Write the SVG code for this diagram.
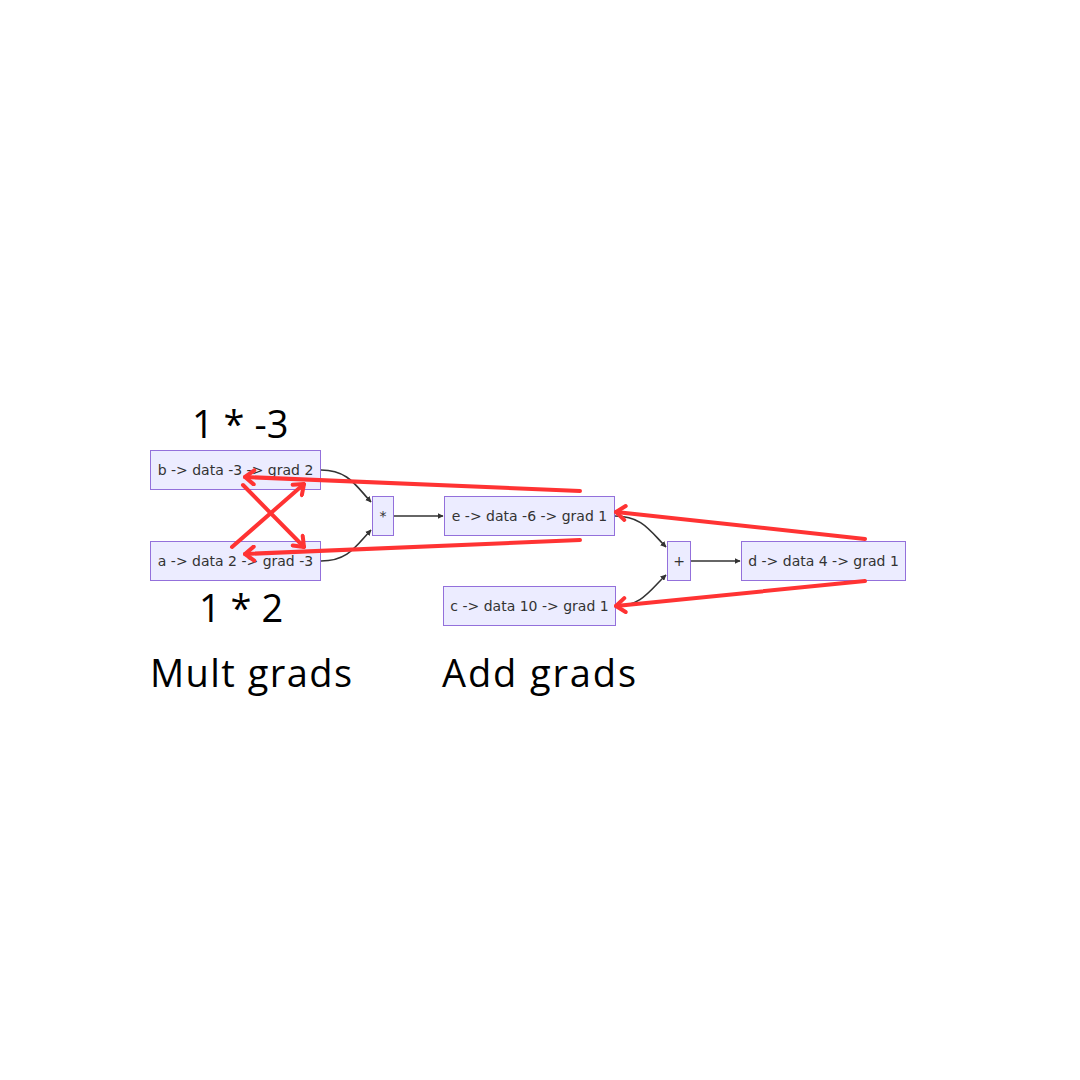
<svg xmlns="http://www.w3.org/2000/svg" width="1080" height="1080" viewBox="0 0 1080 1080">
<defs>
<marker id="ah" viewBox="0 0 10 10" refX="9" refY="5" markerWidth="6" markerHeight="6" orient="auto" markerUnits="userSpaceOnUse">
<path d="M0,0 L10,5 L0,10 z" fill="#333"/>
</marker>
<marker id="rh" viewBox="-12 -9 14 18" refX="0" refY="0" markerWidth="14" markerHeight="18" orient="auto" markerUnits="userSpaceOnUse">
<path d="M-9,-7 L0,0 L-9,7" fill="none" stroke="#ff3333" stroke-width="4" stroke-linecap="round" stroke-linejoin="round"/>
</marker>
<style>
.box{fill:#ECECFF;stroke:#9370DB;stroke-width:1}
.lbl{font-family:"DejaVu Sans",Verdana,sans-serif;font-size:14px;fill:#333;text-anchor:middle;dominant-baseline:central}
.edge{fill:none;stroke:#333;stroke-width:1.6}
.red{fill:none;stroke:#ff3333;stroke-width:4;stroke-linecap:round}
.big{font-family:"Open Sans",sans-serif;font-size:38px;fill:#000}
</style>
</defs>
<rect width="1080" height="1080" fill="#fff"/>
<g id="connectors">
<path class="edge" d="M321,470 C348,470 356,486 371,502" marker-end="url(#ah)"/>
<path class="edge" d="M321,561 C348,561 356,546 371,530" marker-end="url(#ah)"/>
<path class="edge" d="M393,516 L443,516" marker-end="url(#ah)"/>
<path class="edge" d="M615,516 C642,516 650,531 666,547" marker-end="url(#ah)"/>
<path class="edge" d="M616,606 C642,606 650,590 666,575" marker-end="url(#ah)"/>
<path class="edge" d="M690,561 L740,561" marker-end="url(#ah)"/>
</g>
<g id="node-b"><rect class="box" x="150.5" y="450.5" width="170" height="39"/><text class="lbl" x="235.5" y="470">b -&gt; data -3 -&gt; grad 2</text></g>
<g id="node-a"><rect class="box" x="150.5" y="541.5" width="170" height="39"/><text class="lbl" x="235.5" y="561">a -&gt; data 2 -&gt; grad -3</text></g>
<g id="node-mul"><rect class="box" x="372.5" y="496.5" width="21" height="39"/><text class="lbl" x="383" y="516">*</text></g>
<g id="node-e"><rect class="box" x="444.5" y="496.5" width="170" height="39"/><text class="lbl" x="529.5" y="516">e -&gt; data -6 -&gt; grad 1</text></g>
<g id="node-c"><rect class="box" x="443.5" y="586.5" width="172" height="39"/><text class="lbl" x="529.5" y="606">c -&gt; data 10 -&gt; grad 1</text></g>
<g id="node-add"><rect class="box" x="667.5" y="541.5" width="23" height="39"/><text class="lbl" x="679" y="561">+</text></g>
<g id="node-d"><rect class="box" x="741.5" y="541.5" width="164" height="39"/><text class="lbl" x="823.5" y="561">d -&gt; data 4 -&gt; grad 1</text></g>
<g id="annotations">
<path class="red" d="M580,491 L245,477" marker-end="url(#rh)"/>
<path class="red" d="M580,540 L245,554" marker-end="url(#rh)"/>
<path class="red" d="M865,539 L616,512" marker-end="url(#rh)"/>
<path class="red" d="M865,581 L616,606" marker-end="url(#rh)"/>
<path class="red" d="M232,547 L304,484" marker-end="url(#rh)"/>
<path class="red" d="M243,485 L304,547" marker-end="url(#rh)"/>
<text class="big" x="192" y="438">1 * -3</text>
<text class="big" x="199" y="622">1 * 2</text>
<text class="big" x="150" y="687" textLength="202" lengthAdjust="spacing">Mult grads</text>
<text class="big" x="442" y="687" textLength="194" lengthAdjust="spacing">Add grads</text>
</g>
</svg>
